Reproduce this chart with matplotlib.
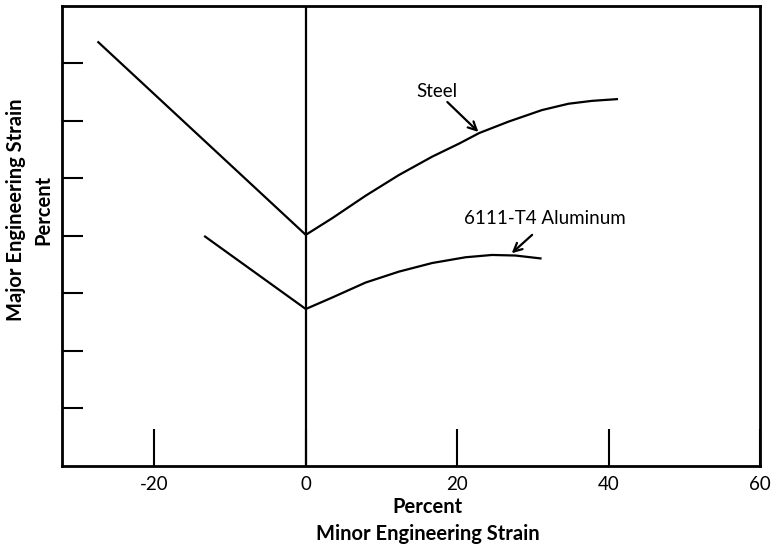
import matplotlib
matplotlib.use("Agg")
import matplotlib.pyplot as plt

plt.rcParams['font.family'] = ['Lato', 'DejaVu Sans']

# Data
steel_x = [-27.4, 0.0, 3.5, 7.9, 12.3, 16.7, 20.3, 22.9, 26.8, 31.2, 34.7, 37.8, 41.1]
steel_y = [73.7, 40.2, 43.1, 47.0, 50.6, 53.8, 56.1, 57.9, 59.9, 61.9, 63.0, 63.5, 63.8]
alu_x = [-13.3, 0.0, 3.5, 7.9, 12.3, 16.7, 21.1, 24.6, 27.7, 31.0]
alu_y = [39.9, 27.3, 29.3, 31.9, 33.8, 35.3, 36.3, 36.7, 36.6, 36.1]

x_ticks = [-20, 0, 20, 40, 60]
x_tick_labels = ["-20", "0", "20", "40", "60"]
y_ticks = [10, 20, 30, 40, 50, 60, 70]

fig = plt.figure(figsize=(7.72, 5.45), dpi=100)
ax = fig.add_axes([0.0803, 0.145, 0.9042, 0.844])
ax.set_xlim(-32.2, 60)
ax.set_ylim(0, 80)

lw = 1.6
ax.plot(steel_x, steel_y, color='black', lw=lw, solid_joinstyle='round')
ax.plot(alu_x, alu_y, color='black', lw=lw, solid_joinstyle='round')

# vertical zero line
ax.axvline(0, color='black', lw=lw)

for s in ax.spines.values():
    s.set_linewidth(2)

ax.set_xticks(x_ticks)
ax.set_xticklabels(x_tick_labels, fontsize=13.5)
ax.tick_params(axis='x', direction='in', length=27, width=1.5, pad=7)
ax.set_yticks(y_ticks)
ax.set_yticklabels([])
ax.tick_params(axis='y', direction='in', length=15, width=1.5)

ax.set_xlabel("Percent\nMinor Engineering Strain", fontsize=14.5,
              fontweight='bold', linespacing=1.45)
ax.xaxis.set_label_coords(0.524, -0.068)
ax.set_ylabel("Major Engineering Strain\nPercent", fontsize=14.5,
              fontweight='bold', linespacing=1.45)
ax.yaxis.set_label_coords(-0.012, 0.557)

ax.text(17.3, 65.2, "Steel", ha='center', va='center', fontsize=13.5)
ax.annotate("", xy=(22.8, 58.1), xytext=(18.7, 63.3),
            arrowprops=dict(arrowstyle='->', color='black', lw=1.6,
                            shrinkA=0, shrinkB=0, mutation_scale=15))
ax.text(31.6, 43.0, "6111-T4 Aluminum", ha='center', va='center', fontsize=13.5)
ax.annotate("", xy=(27.2, 37.0), xytext=(29.9, 40.2),
            arrowprops=dict(arrowstyle='->', color='black', lw=1.6,
                            shrinkA=0, shrinkB=0, mutation_scale=15))

fig.savefig("out.png", dpi=100)
